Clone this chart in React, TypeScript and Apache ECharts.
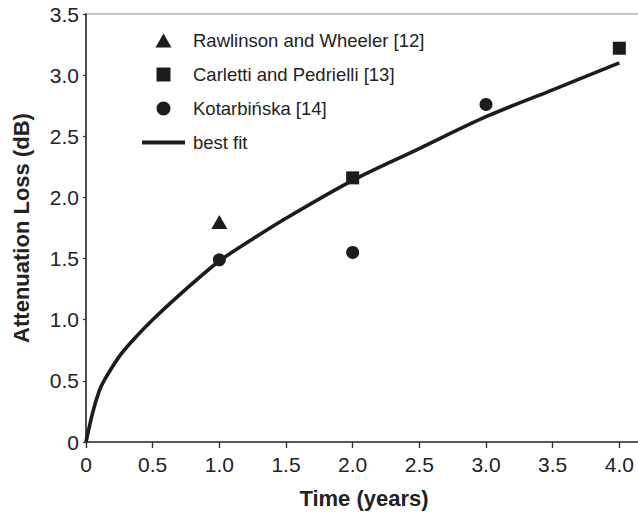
import React, { useEffect, useRef } from "react";
import * as echarts from "echarts";

const seriesNames = [
  "Rawlinson and Wheeler [12]",
  "Carletti and Pedrielli [13]",
  "Kotarbińska [14]",
  "best fit",
];

const rawlinsonX = [1.0];
const rawlinsonY = [1.8];
const carlettiX = [2.0, 4.0];
const carlettiY = [2.16, 3.22];
const kotarbinskaX = [1.0, 2.0, 3.0];
const kotarbinskaY = [1.49, 1.55, 2.76];
const bestFitX = [0, 0.05, 0.1, 0.14, 0.25, 0.35, 0.5, 0.75, 1.0, 1.25, 1.5, 2.0, 2.5, 3.0, 3.5, 4.0];
const bestFitY = [0, 0.24, 0.42, 0.51, 0.7, 0.83, 1.0, 1.25, 1.48, 1.66, 1.83, 2.14, 2.4, 2.66, 2.88, 3.1];

const pairs = (xs: number[], ys: number[]) => xs.map((x, i) => [x, ys[i]]);
const fmt = (v: number) => (v === 0 ? "0" : v.toFixed(1));

const FONT = "'Liberation Sans', Arial, Helvetica, sans-serif";
const INK = "#1c1c1c";

const ICON_TRIANGLE = "path://M0,14L8,0L16,14Z";
const ICON_SQUARE = "path://M0,0L13,0L13,13L0,13Z";
const ICON_CIRCLE = "path://M0,7A7,7,0,1,0,14,7A7,7,0,1,0,0,7Z";
const ICON_LINE = "path://M0,0L43,0L43,4L0,4Z";

export default function App() {
  const ref = useRef<HTMLDivElement>(null);
  useEffect(() => {
    if (!ref.current) return;
    const chart = echarts.init(ref.current, undefined, { renderer: "svg" });
    chart.setOption({
      animation: false,
      backgroundColor: "#ffffff",
      textStyle: { fontFamily: FONT },
      grid: {
        left: 86,
        top: 14,
        width: 600,
        height: 428,
        show: true,
        borderColor: "#8a8a8a",
        borderWidth: 1.2,
        containLabel: false,
        outerBoundsMode: "none",
      },
      legend: {
        orient: "vertical",
        left: 137,
        top: 26,
        itemWidth: 43,
        itemHeight: 14,
        itemGap: 15,
        symbolKeepAspect: true,
        itemStyle: { color: INK, opacity: 1 },
        textStyle: { fontSize: 18.5, color: "#222", fontFamily: FONT, padding: [0, 0, 0, 3] },
        data: [
          { name: seriesNames[0], icon: ICON_TRIANGLE },
          { name: seriesNames[1], icon: ICON_SQUARE },
          { name: seriesNames[2], icon: ICON_CIRCLE },
          { name: seriesNames[3], icon: ICON_LINE },
        ],
      },
      xAxis: {
        type: "value",
        min: 0,
        max: 4.5,
        interval: 0.5,
        name: "Time (years)",
        nameLocation: "middle",
        nameGap: 45,
        nameTextStyle: {
          fontSize: 22,
          fontWeight: "bold",
          color: "#222",
          fontFamily: FONT,
          padding: [0, 44, 0, 0],
        },
        axisLine: { show: true, lineStyle: { color: "#333", width: 1.6 } },
        axisTick: { show: true, inside: false, length: 6, lineStyle: { color: "#333", width: 1.4 } },
        axisLabel: { formatter: fmt, fontSize: 21, color: "#222", margin: 12, fontFamily: FONT },
        splitLine: { show: false },
      },
      yAxis: {
        type: "value",
        min: 0,
        max: 3.5,
        interval: 0.5,
        name: "Attenuation Loss (dB)",
        nameLocation: "middle",
        nameGap: 54,
        nameTextStyle: { fontSize: 22, fontWeight: "bold", color: "#222", fontFamily: FONT },
        axisLine: { show: true, lineStyle: { color: "#333", width: 1.6 } },
        axisTick: { show: true, inside: false, length: 3, lineStyle: { color: "#333", width: 1.2 } },
        axisLabel: { formatter: fmt, fontSize: 21, color: "#222", margin: 7, fontFamily: FONT },
        splitLine: { show: false },
      },
      series: [
        {
          name: seriesNames[0],
          type: "scatter",
          symbol: "triangle",
          symbolSize: [16, 14],
          itemStyle: { color: INK, opacity: 1 },
          data: pairs(rawlinsonX, rawlinsonY),
          z: 4,
        },
        {
          name: seriesNames[1],
          type: "scatter",
          symbol: "rect",
          symbolSize: 13,
          itemStyle: { color: INK, opacity: 1 },
          data: pairs(carlettiX, carlettiY),
          z: 4,
        },
        {
          name: seriesNames[2],
          type: "scatter",
          symbol: "circle",
          symbolSize: 13,
          itemStyle: { color: INK, opacity: 1 },
          data: pairs(kotarbinskaX, kotarbinskaY),
          z: 4,
        },
        {
          name: seriesNames[3],
          type: "line",
          showSymbol: false,
          symbol: "none",
          smooth: 0.3,
          lineStyle: { color: INK, width: 3.6 },
          itemStyle: { color: INK },
          data: pairs(bestFitX, bestFitY),
          z: 3,
        },
      ],
    });
    return () => chart.dispose();
  }, []);
  return (
    <div
      style={{
        position: "absolute",
        left: 0,
        top: 0,
        width: 638,
        height: 517,
        overflow: "hidden",
        background: "#fff",
      }}
    >
      <div ref={ref} style={{ width: 720, height: 517 }} />
    </div>
  );
}
